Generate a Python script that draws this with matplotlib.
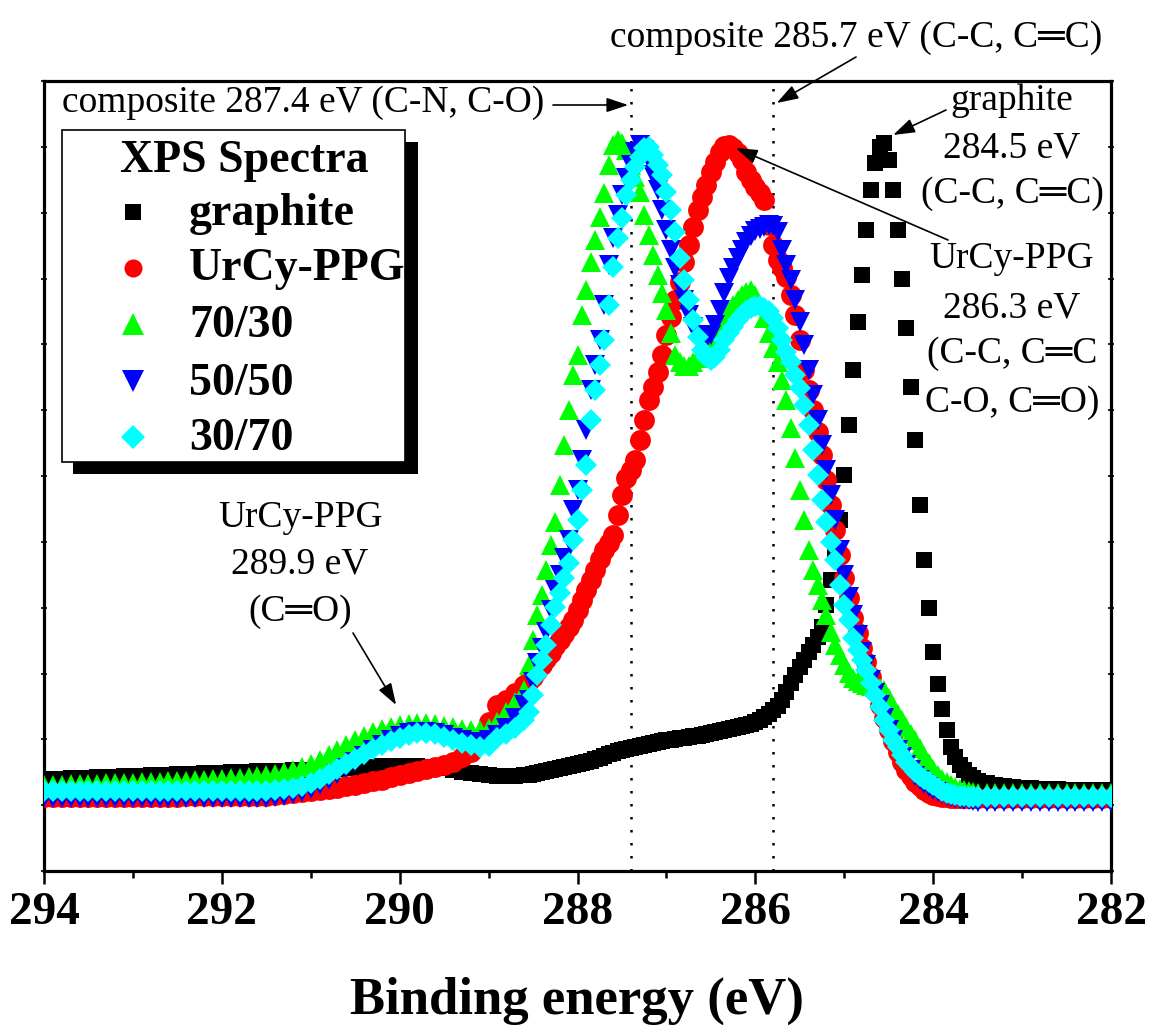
import numpy as np
import matplotlib
matplotlib.use("Agg")
import matplotlib.pyplot as plt
from matplotlib.lines import Line2D
from matplotlib.patches import Rectangle

plt.rcParams['font.family'] = ['Liberation Serif', 'DejaVu Serif']

W, H, DPI = 1149, 1026, 100

# ---------------- data ----------------
# binding-energy sampling grid (eV): coarse on the flat parts, fine over the peaks
energy_left = np.round(np.arange(294.0, 288.59, -0.1), 2)    # 294.0 ... 288.6
energy_mid = np.round(np.arange(288.55, 283.54, -0.05), 2)   # 288.55 ... 283.55
energy_right = np.round(np.arange(283.5, 281.99, -0.1), 2)   # 283.5 ... 282.0

# intensities (arbitrary units)
graphite_left = [98, 98, 98, 99, 99, 99, 100, 100, 100, 101, 101, 101, 102, 102, 102, 103,
                 103, 103, 104, 104, 104, 105, 105, 105, 106, 106, 106, 106, 107, 107, 107,
                 107, 108, 108, 109, 109, 110, 110, 111, 111, 111, 111, 111, 110, 110, 109,
                 107, 105, 104, 103, 102, 101, 101, 101, 102]
graphite_mid = [102, 103, 104, 105, 106, 107, 108, 109, 110, 111,
                112, 113, 114, 115, 116, 118, 119, 121, 123, 124,
                126, 127, 128, 129, 130, 131, 132, 133, 134, 135,
                136, 137, 137, 138, 139, 139, 140, 141, 141, 142,
                143, 144, 145, 146, 147, 148, 149, 150, 151, 152,
                153, 155, 157, 160, 163, 167, 171, 177, 185, 194,
                202, 210, 217, 225, 232, 240, 250, 272, 297, 322,
                357, 402, 452, 507, 555, 602, 647, 687, 714, 730,
                734, 717, 687, 647, 598, 549, 490, 437, 372, 317,
                269, 225, 193, 168, 147, 130, 120, 112, 107, 102,
                99]
graphite_right = [96, 94, 92, 91, 90, 89, 89, 88, 88, 88, 87, 87, 87, 87, 87, 87]

urcy_left = [80] * 16 + [81] * 10 + [82, 83, 84, 85, 86, 87, 88, 89, 91, 92, 94, 96, 97, 100,
                                     102, 104, 106, 108, 110, 112, 115, 120, 125, 137, 155,
                                     172, 177, 184, 192]
urcy_mid = [196, 200, 206, 212, 218, 224, 231, 237, 243, 250,
            257, 267, 277, 287, 297, 307, 318, 327, 334, 342,
            362, 382, 399, 407, 417, 437, 457, 477, 490, 505,
            522, 542, 560, 577, 595, 615, 632, 650, 667, 680,
            692, 705, 715, 725, 731, 732, 729, 724, 717, 705,
            697, 690, 684, 677, 652, 632, 617, 609, 600, 582,
            562, 537, 507, 487, 467, 445, 422, 397, 372, 347,
            322, 299, 279, 259, 244, 229, 215, 200, 186, 172,
            159, 147, 136, 125, 115, 107, 101, 95, 91, 87,
            84, 82, 81, 80, 80, 79, 79, 79, 79, 79,
            79]
urcy_right = [79] * 16

c7030_left = [92, 92, 92, 93, 93, 93, 93, 94, 94, 94,
              94, 95, 95, 95, 96, 96, 96, 97, 97, 98,
              98, 99, 99, 100, 101, 102, 103, 105, 107, 110,
              113, 117, 122, 127, 132, 137, 141, 145, 148, 150,
              152, 153, 154, 154, 153, 151, 150, 148, 147, 147,
              149, 155, 165, 175, 187]
c7030_mid = [212, 237, 262, 282, 307, 332, 355, 392, 432, 467,
             502, 522, 562, 587, 615, 637, 660, 684, 712, 732,
             737, 734, 727, 712, 700, 685, 662, 642, 622, 602,
             584, 567, 544, 522, 515, 511, 511, 515, 519, 522,
             524, 529, 537, 547, 557, 565, 572, 577, 582, 585,
             587, 582, 572, 559, 544, 529, 515, 497, 477, 449,
             419, 387, 357, 327, 307, 292, 277, 262, 245, 232,
             222, 212, 204, 199, 196, 194, 192, 191, 190, 189,
             187, 179, 171, 163, 157, 150, 143, 137, 129, 121,
             114, 108, 102, 98, 95, 92, 90, 88, 87, 86,
             85]
c7030_right = [84] * 16

c5050_left = [79] * 26 + [80, 81, 83, 85, 88, 92, 97, 103, 109, 115, 121, 127, 132, 137, 141,
                          144, 145, 145, 144, 142, 139, 137, 135, 135, 137, 142, 149, 159, 172]
c5050_mid = [177, 195, 214, 229, 245, 267, 287, 302, 319, 337,
             367, 387, 417, 447, 487, 512, 537, 572, 612, 639,
             662, 682, 699, 712, 725, 732, 727, 717, 702, 687,
             667, 647, 627, 609, 592, 577, 562, 550, 542, 537,
             537, 542, 552, 567, 584, 599, 609, 619, 627, 635,
             641, 646, 648, 650, 652, 651, 645, 627, 612, 597,
             577, 555, 532, 507, 482, 457, 432, 407, 382, 357,
             327, 302, 280, 262, 242, 225, 212, 197, 184, 172,
             159, 147, 137, 127, 120, 112, 107, 101, 97, 93,
             90, 87, 85, 83, 81, 80, 79, 78, 77, 77,
             76]
c5050_right = [75] * 16

c3070_left = [86] * 26 + [87, 88, 89, 91, 94, 98, 103, 108, 113, 118, 123, 128, 132, 136, 139,
                          142, 144, 144, 143, 140, 137, 134, 132, 130, 131, 139, 143, 149, 157]
c3070_mid = [165, 182, 202, 217, 232, 252, 270, 284, 299, 314,
             337, 357, 387, 412, 457, 487, 512, 537, 572, 610,
             639, 659, 682, 697, 710, 720, 729, 730, 722, 712,
             702, 685, 667, 645, 619, 597, 577, 557, 540, 527,
             520, 517, 520, 527, 537, 544, 550, 557, 562, 566,
             569, 571, 571, 569, 566, 559, 549, 537, 525, 515,
             502, 489, 472, 452, 427, 402, 377, 355, 335, 317,
             292, 272, 257, 239, 227, 217, 207, 194, 182, 170,
             157, 147, 137, 130, 122, 115, 110, 105, 101, 98,
             95, 92, 89, 86, 84, 83, 82, 81, 81, 80,
             80]
c3070_right = [80] * 16

series_labels = ['graphite', 'UrCy-PPG', '70/30', '50/50', '30/70']
series_colors = ['#000000', '#FF0000', '#00FF00', '#0000FF', '#00FFFF']
series_markers = ['s', 'o', '^', 'v', 'D']
series_msize = [12, 15, 15, 15, 10.8]
series_values = [
    graphite_left + graphite_mid + graphite_right,
    urcy_left + urcy_mid + urcy_right,
    c7030_left + c7030_mid + c7030_right,
    c5050_left + c5050_mid + c5050_right,
    c3070_left + c3070_mid + c3070_right,
]
energy = np.concatenate([energy_left, energy_mid, energy_right])

# reference lines (eV)
ref_lines = [287.4, 285.8]

x_ticks = [294, 292, 290, 288, 286, 284, 282]
x_tick_labels = ['294', '292', '290', '288', '286', '284', '282']
x_minor = [293, 291, 289, 287, 285, 283]

# ---------------- figure ----------------
fig = plt.figure(figsize=(W / DPI, H / DPI), dpi=DPI)
L, R, T, B = 44, 1111, 81, 871
ax = fig.add_axes([L / W, 1 - B / H, (R - L) / W, (B - T) / H])


def fp(x, y):
    """figure fraction from top-left pixel position"""
    return (x / W, 1 - y / H)


for k, (lab, col, mk, ms, vals) in enumerate(zip(series_labels, series_colors, series_markers,
                                                  series_msize, series_values)):
    assert len(vals) == len(energy)
    ax.plot(energy, vals, linestyle='none', marker=mk, markersize=ms, color=col,
            markeredgewidth=0, zorder=2 + k, label=lab)

for xv in ref_lines:
    ax.axvline(xv, color='black', linestyle=(0, (1, 4.2)), linewidth=1.8, zorder=1)

ax.set_xlim(294, 282)
ax.set_ylim(6, 796)
ax.set_xticks(x_ticks)
ax.set_xticklabels(x_tick_labels, fontsize=34, fontweight='bold')
ax.set_xticks(x_minor, minor=True)
ax.set_yticks(np.linspace(6, 796, 13))
ax.set_yticklabels([])
ax.tick_params(axis='x', which='major', direction='out', length=9, width=1.8, pad=6)
ax.tick_params(axis='x', which='minor', direction='out', length=5, width=1.8)
ax.tick_params(axis='y', which='major', direction='inout', length=5, width=1.2,
               left=True, right=True)
for sp in ax.spines.values():
    sp.set_linewidth(2.3)

ax.set_xlabel('Binding energy (eV)', fontsize=38, fontweight='bold')
ax.xaxis.set_label_coords(0.5, -(977 - B) / (B - T), transform=ax.transAxes)
ax.xaxis.label.set_va('top')

# ---------------- legend (boxed with black drop shadow) ----------------
fig.add_artist(Rectangle(fp(73, 474), 345 / W, 332 / H, transform=fig.transFigure,
                         facecolor='black', edgecolor='none', zorder=5))
fig.add_artist(Rectangle(fp(62, 462), 343 / W, 332 / H, transform=fig.transFigure,
                         facecolor='white', edgecolor='black', linewidth=1.2, zorder=6))
fig.text(*fp(120, 172), 'XPS Spectra', fontsize=33, fontweight='bold', ha='left',
         va='baseline', zorder=7)
leg_rows = [212, 268, 324, 381, 437]
leg_base = [225, 280, 337, 395, 450]
leg_ms = [11.5, 13, 16, 16, 12]
for lab, col, mk, ms, ry, by in zip(series_labels, series_colors, series_markers, leg_ms,
                                    leg_rows, leg_base):
    fig.add_artist(Line2D([133 / W], [1 - ry / H], transform=fig.transFigure, marker=mk,
                          markersize=ms, color=col, markeredgewidth=0, linestyle='none',
                          zorder=7))
    fig.text(*fp(189, by), lab, fontsize=33, fontweight='bold', ha='left', va='baseline',
             zorder=7)

# ---------------- annotations ----------------
ann_fs = 27
fig.text(*fp(62, 112), 'composite 287.4 eV (C-N, C-O)', fontsize=ann_fs, ha='left',
         va='baseline')
fig.text(*fp(856, 47), 'composite 285.7 eV (C-C, C\u2550C)', fontsize=ann_fs, ha='center',
         va='baseline')
for txt, by in zip(['graphite', '284.5 eV', '(C-C, C\u2550C)'], [110, 157, 203]):
    fig.text(*fp(1012, by), txt, fontsize=ann_fs, ha='center', va='baseline')
for txt, by in zip(['UrCy-PPG', '286.3 eV', '(C-C, C\u2550C', 'C-O, C\u2550O)'],
                   [268, 317, 363, 412]):
    fig.text(*fp(1012, by), txt, fontsize=ann_fs, ha='center', va='baseline')
for txt, by in zip(['UrCy-PPG', '289.9 eV', '(C\u2550O)'], [527, 574, 621]):
    fig.text(*fp(300, by), txt, fontsize=ann_fs, ha='center', va='baseline')

# arrows: (tip in data coords, tail in top-left figure pixels)
arrows = [
    ((287.43, 772), (553, 105)),
    ((285.76, 774), (856, 57)),
    ((284.45, 742), (946, 110)),
    ((286.22, 729), (948, 240)),
    ((290.04, 172), (353, 633)),
]
for tip, tail in arrows:
    ax.annotate('', xy=tip, xycoords='data', xytext=fp(*tail), textcoords='figure fraction',
                arrowprops=dict(arrowstyle='-|>,head_length=0.6,head_width=0.2',
                                mutation_scale=22, lw=1.2, color='black',
                                shrinkA=0, shrinkB=0),
                annotation_clip=False, zorder=10)

fig.savefig('out.png', dpi=DPI)
